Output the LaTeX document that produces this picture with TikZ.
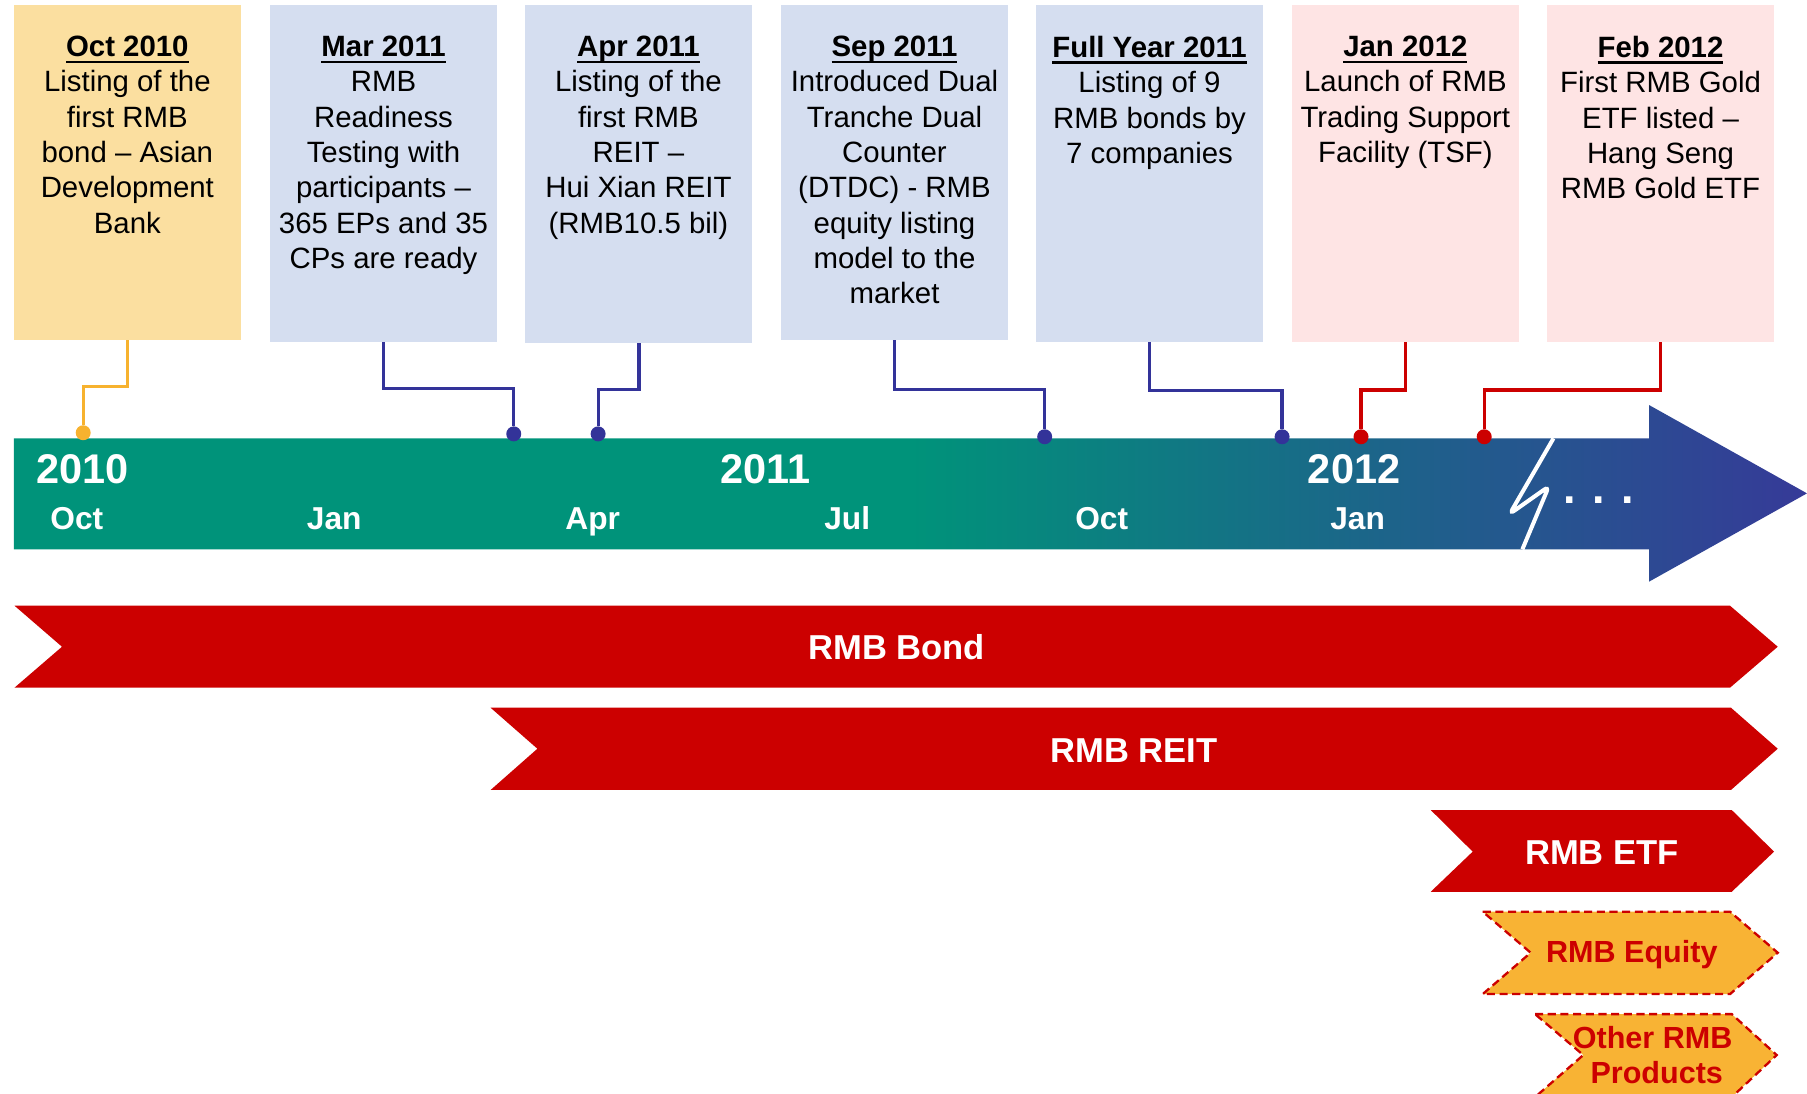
\documentclass[tikz,border=0pt]{standalone}
\usepackage{fontspec}
\setmainfont{Liberation Sans}
\definecolor{boxor}{HTML}{FBDFA0}
\definecolor{boxbl}{HTML}{D5DEF0}
\definecolor{boxpk}{HTML}{FEE4E4}
\definecolor{tlg}{HTML}{00937A}
\definecolor{tlb}{HTML}{363A98}
\definecolor{cbl}{HTML}{333399}
\definecolor{cor}{HTML}{F7B22F}
\definecolor{cred}{HTML}{CC0000}
\definecolor{eqor}{HTML}{F8B334}
\pgfdeclarehorizontalshading{barshade}{100bp}{color(0bp)=(tlg); color(50bp)=(tlg); color(75bp)=(tlb); color(100bp)=(tlb)}
\newcommand\ttl[1]{\setbox0\hbox{\bfseries #1}\rlap{\rule[-5.3pt]{\wd0}{2pt}}\box0}
\begin{document}
\begin{tikzpicture}[x=1pt,y=-1pt,
  evbox/.style={inner sep=0, anchor=north west, minimum width=197pt},
  boxtext/.style={anchor=north, align=center, inner sep=0, font=\fontsize{25.5}{30.6}\selectfont},
  yr/.style={anchor=base, text=white, inner sep=0, font=\bfseries\fontsize{36}{40}\selectfont},
  mo/.style={anchor=base, text=white, inner sep=0, font=\bfseries\fontsize{27.5}{32}\selectfont},
  dot/.style={circle, inner sep=0, minimum size=13pt},
  conn/.style={line width=2.8pt},
  bn/.style={anchor=base, text=white, inner sep=0, font=\bfseries\fontsize{30}{36}\selectfont},
  bnsmall/.style={anchor=base, text=cred, inner sep=0, align=center, font=\bfseries\fontsize{26.5}{30.3}\selectfont},
  redban/.style={fill=cred},
  dashban/.style={fill=eqor, draw=cred, line width=2pt, dash pattern=on 7pt off 4pt}
]
\useasboundingbox (0,0) rectangle (1568,949);

% event boxes
\node[evbox, fill=boxor, minimum height=290.7pt] (b1) at (12,4.3) {};
\node[evbox, fill=boxbl, minimum height=292.2pt] (b2) at (234.3,4.3) {};
\node[evbox, fill=boxbl, minimum height=293.1pt] (b3) at (455.7,4.3) {};
\node[evbox, fill=boxbl, minimum height=290.7pt] (b4) at (677.7,4.3) {};
\node[evbox, fill=boxbl, minimum height=292.2pt] (b5) at (899,4.3) {};
\node[evbox, fill=boxpk, minimum height=292.2pt] (b6) at (1121,4.3) {};
\node[evbox, fill=boxpk, minimum height=292.2pt] (b7) at (1342.3,4.3) {};

\node[boxtext] (t1) at (110.5,31.2) {\ttl{Oct 2010}\\Listing of the\\first RMB\\bond – Asian\\Development\\Bank};
\node[boxtext] (t2) at (332.8,31.2) {\ttl{Mar 2011}\\RMB\\Readiness\\Testing with\\participants –\\365 EPs and 35\\CPs are ready};
\node[boxtext] (t3) at (554,31.2) {\ttl{Apr 2011}\\Listing of the\\first RMB\\REIT –\\Hui Xian REIT\\(RMB10.5 bil)};
\node[boxtext] (t4) at (776.2,31.2) {\ttl{Sep 2011}\\Introduced Dual\\Tranche Dual\\Counter\\(DTDC) - RMB\\equity listing\\model to the\\market};
\node[boxtext] (t5) at (997.5,31.2) {\ttl{Full Year 2011}\\Listing of 9\\RMB bonds by\\7 companies};
\node[boxtext] (t6) at (1219.5,31.2) {\ttl{Jan 2012}\\Launch of RMB\\Trading Support\\Facility (TSF)};
\node[boxtext] (t7) at (1440.9,31.2) {\ttl{Feb 2012}\\First RMB Gold\\ETF listed –\\Hang Seng\\RMB Gold ETF};

% timeline bar
\shade[shading=barshade] (12,380.4) -- (1431,380.4) -- (1431,351.5) -- (1568,428.1) -- (1431,504.7) -- (1431,476.7) -- (12,476.7) -- cycle;
\draw[white, line width=3.5pt, rounded corners=5pt] (1348,380.4) -- (1310,446) -- (1344,422) -- (1321,476.7);
\node[anchor=base, text=white, inner sep=0, font=\bfseries\fontsize{39}{40}\selectfont] (dots) at (1387,436.7) {. . .};

\node[yr] (y2010) at (71.5,419.5) {2010};
\node[yr] (y2011) at (664.5,419.5) {2011};
\node[yr] (y2012) at (1175,419.5) {2012};
\node[mo] (m1) at (66.7,459.5) {Oct};
\node[mo] (m2) at (290,459.5) {Jan};
\node[mo] (m3) at (514.3,459.5) {Apr};
\node[mo] (m4) at (735.2,459.5) {Jul};
\node[mo] (m5) at (956,459.5) {Oct};
\node[mo] (m6) at (1178,459.5) {Jan};

% dots on the timeline
\node[dot, fill=cor] (d1) at (72.2,375.5) {};
\node[dot, fill=cbl] (d2) at (445.8,376.5) {};
\node[dot, fill=cbl] (d3) at (519,376.5) {};
\node[dot, fill=cbl] (d4) at (906.5,379) {};
\node[dot, fill=cbl] (d5) at (1112.5,379) {};
\node[dot, fill=cred] (d6) at (1181,379) {};
\node[dot, fill=cred] (d7) at (1287.9,379) {};

% connectors
\draw[conn, cor] (b1.south) -- ++(0,40) -| (d1.north);
\draw[conn, cbl] (b2.south) -- ++(0,40.5) -| (d2.north);
\draw[conn, cbl] (b3.south) -- ++(0,40.4) -| (d3.north);
\draw[conn, cbl] (b4.south) -- ++(0,42.9) -| (d4.north);
\draw[conn, cbl] (b5.south) -- ++(0,41.8) -| (d5.north);
\draw[conn, cred] (b6.south) -- ++(0,41.5) -| (d6.north);
\draw[conn, cred] (b7.south) -- ++(0,41.5) -| (d7.north);

% product banners
\fill[redban] (12.6,525.6) -- (1501.2,525.6) -- (1542.6,561.2) -- (1501.2,596.7) -- (12.6,596.7) -- (53.8,561.2) -- cycle;
\node[bn] (bond) at (778,572.7) {RMB Bond};
\fill[redban] (425.7,614.1) -- (1502,614.1) -- (1542.6,649.7) -- (1502,685.5) -- (425.7,685.5) -- (466.3,649.7) -- cycle;
\node[bn] (reit) at (984,661.5) {RMB REIT};
\fill[redban] (1241.5,702.9) -- (1502.7,702.9) -- (1539.4,739) -- (1502.7,773.8) -- (1241.5,773.8) -- (1277.9,739) -- cycle;
\node[bn] (etf) at (1390,749.8) {RMB ETF};
\filldraw[dashban] (1286.6,791.1) -- (1501.2,791.1) -- (1542.6,826.7) -- (1501.2,862.6) -- (1286.6,862.6) -- (1328.2,826.7) -- cycle;
\node[bnsmall] (eq) at (1416,835.3) {RMB Equity};
\filldraw[dashban] (1332,880) -- (1502.7,880) -- (1541.7,915.5) -- (1502.7,952) -- (1332,952) -- (1373.9,915.5) -- cycle;
\node[bnsmall] (oth1) at (1434,909.7) {Other RMB};
\node[bnsmall] (oth2) at (1437.6,940) {Products};
\end{tikzpicture}
\end{document}
